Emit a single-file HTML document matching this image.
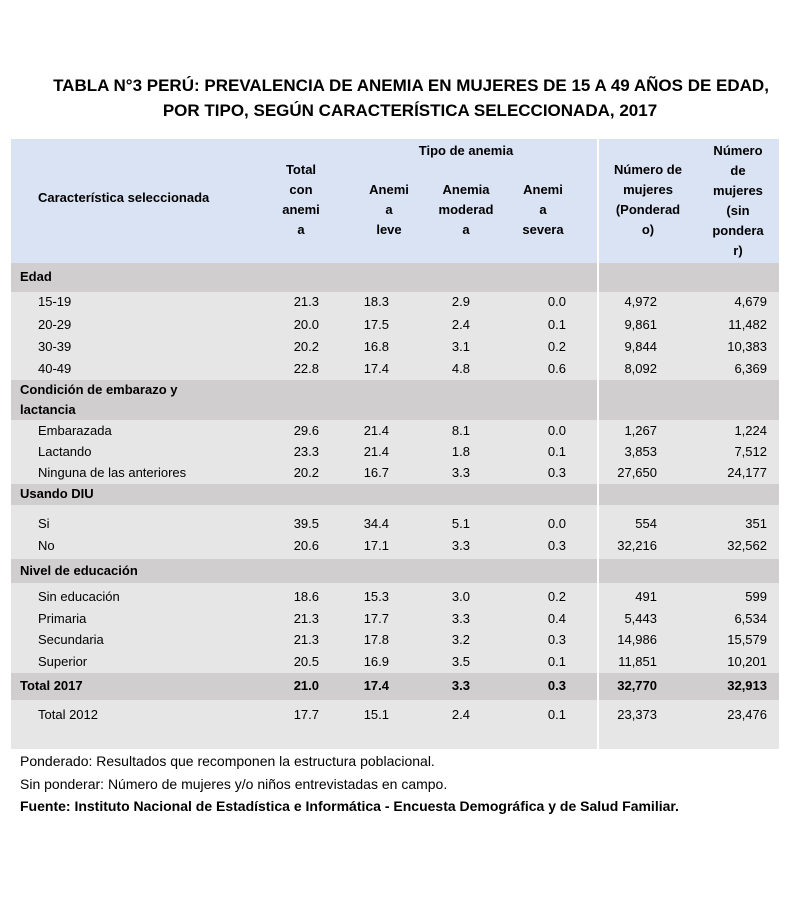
<!DOCTYPE html>
<html><head><meta charset="utf-8">
<style>
body{margin:0;width:790px;height:897px;background:#fff;position:relative;overflow:hidden;font-family:"Liberation Sans",sans-serif;color:#000}
.a{position:absolute;white-space:nowrap;font-size:13px;line-height:16px}
.b{font-weight:bold}
.f{font-size:14px}
.t{position:absolute;left:0;width:790px;text-align:center;font-weight:bold;font-size:17px}
.hc{position:absolute;text-align:center;font-weight:bold;font-size:13px;line-height:20px;transform:translateX(-50%)}
</style></head>
<body>
<div class="t" style="top:76px;left:16px">TABLA N°3 PERÚ: PREVALENCIA DE ANEMIA EN MUJERES DE 15 A 49 AÑOS DE EDAD,</div>
<div class="t" style="top:101px;left:15px">POR TIPO, SEGÚN CARACTERÍSTICA SELECCIONADA, 2017</div>
<div style="position:absolute;left:11px;top:139px;width:768px;height:124px;background:#dae3f3"></div>
<div style="position:absolute;left:11px;top:263px;width:768px;height:486px;background:#e7e6e6"></div>
<div id="bands"></div>
<div style="position:absolute;left:597px;top:139px;width:2px;height:610px;background:#fff"></div>
<div class="a b" style="left:38px;top:190px">Característica seleccionada</div>
<div class="hc" style="left:301px;top:160px">Total<br>con<br>anemi<br>a</div>
<div class="hc" style="left:466px;top:141px">Tipo de anemia</div>
<div class="hc" style="left:389px;top:180px">Anemi<br>a<br>leve</div>
<div class="hc" style="left:466px;top:180px">Anemia<br>moderad<br>a</div>
<div class="hc" style="left:543px;top:180px">Anemi<br>a<br>severa</div>
<div class="hc" style="left:648px;top:160px">Número de<br>mujeres<br>(Ponderad<br>o)</div>
<div class="hc" style="left:738px;top:141px">Número<br>de<br>mujeres<br>(sin<br>pondera<br>r)</div>
<div id="rows"></div>
<div class="a f" style="left:20px;top:753px">Ponderado: Resultados que recomponen la estructura poblacional.</div>
<div class="a f" style="left:20px;top:776px">Sin ponderar: Número de mujeres y/o niños entrevistadas en campo.</div>
<div class="a b f" style="left:20px;top:798px">Fuente: Instituto Nacional de Estadística e Informática - Encuesta Demográfica y de Salud Familiar.</div>
<script>
const labels=["Edad","15-19","20-29","30-39","40-49","Condición de embarazo y|lactancia","Embarazada","Lactando","Ninguna de las anteriores","Usando DIU","Si","No","Nivel de educación","Sin educación","Primaria","Secundaria","Superior","Total 2017","Total 2012"];
const kinds=["s","d","d","d","d","s","d","d","d","s","d","d","s","d","d","d","d","t","d"];
const rowY=[277,302,325,347,369,400,431,452,473,494,524,546,571,597,619,640,662,686,715];
const total=[null,"21.3","20.0","20.2","22.8",null,"29.6","23.3","20.2",null,"39.5","20.6",null,"18.6","21.3","21.3","20.5","21.0","17.7"];
const leve=[null,"18.3","17.5","16.8","17.4",null,"21.4","21.4","16.7",null,"34.4","17.1",null,"15.3","17.7","17.8","16.9","17.4","15.1"];
const moderada=[null,"2.9","2.4","3.1","4.8",null,"8.1","1.8","3.3",null,"5.1","3.3",null,"3.0","3.3","3.2","3.5","3.3","2.4"];
const severa=[null,"0.0","0.1","0.2","0.6",null,"0.0","0.1","0.3",null,"0.0","0.3",null,"0.2","0.4","0.3","0.1","0.3","0.1"];
const ponderado=[null,"4,972","9,861","9,844","8,092",null,"1,267","3,853","27,650",null,"554","32,216",null,"491","5,443","14,986","11,851","32,770","23,373"];
const sinPonderar=[null,"4,679","11,482","10,383","6,369",null,"1,224","7,512","24,177",null,"351","32,562",null,"599","6,534","15,579","10,201","32,913","23,476"];
const bandSpans={0:[263,292],5:[380,420],9:[484,505],12:[559,583],17:[673,700]};
const cols=[total,leve,moderada,severa,ponderado,sinPonderar];
const colRight=[319,389,470,566,657,767];
const colNames=["total","leve","moderada","severa","ponderado","sin-ponderar"];
const R=document.getElementById('rows'),B=document.getElementById('bands');
labels.forEach((lab,i)=>{
  if(bandSpans[i]){const s=bandSpans[i];const d=document.createElement('div');
    d.style.cssText=`position:absolute;left:11px;width:768px;top:${s[0]}px;height:${s[1]-s[0]}px;background:#d0cece`;
    
    
    B.appendChild(d);}
  const bold=kinds[i]!=="d";
  const parts=lab.split('|');
  const l=document.createElement('div');l.className='a'+(bold?' b':'');
  l.style.left=(kinds[i]==="d"?38:20)+'px';
  l.style.top=(rowY[i]-8-(parts.length-1)*10)+'px';
  l.style.lineHeight='20px';l.style.marginTop='-2px';
  l.innerHTML=parts.join('<br>');
  
  
  R.appendChild(l);
  cols.forEach((c,j)=>{if(c[i]==null)return;
    const v=document.createElement('div');v.className='a'+(bold?' b':'');
    v.style.top=(rowY[i]-8)+'px';v.style.right=(790-colRight[j])+'px';
    v.textContent=c[i];
    
    
    R.appendChild(v);});
});
</script>
</body></html>
